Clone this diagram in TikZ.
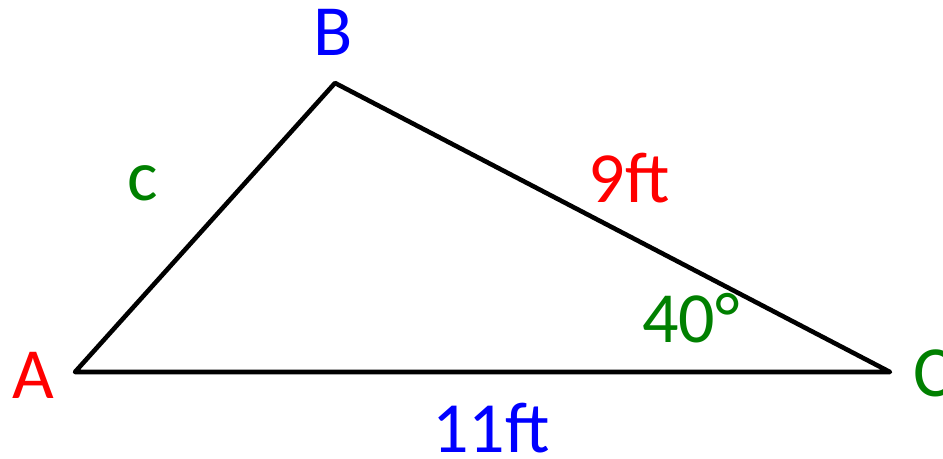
\documentclass[tikz,border=0pt]{standalone}
\usepackage{fontspec}
\setmainfont{Carlito}
\definecolor{lblue}{RGB}{0,0,255}
\definecolor{lred}{RGB}{255,0,0}
\definecolor{lgreen}{RGB}{0,128,0}
\begin{document}
\begin{tikzpicture}[x=0.02cm,y=-0.02cm,
  lbl/.style={inner sep=0pt,font=\fontsize{41}{46}\selectfont},
  edge/.style={line width=2.6pt,line join=round,line cap=round}]
\useasboundingbox (0,0) rectangle (943,458);
\clip (0,0) rectangle (943,458);
\coordinate (A) at (75,372);
\coordinate (B) at (335,83);
\coordinate (C) at (890,372);
\draw[edge] (A) -- (B) -- (C) -- cycle;
\node[lbl,text=lblue] (lB) at (333,32) {B};
\node[lbl,text=lred] (lA) at (33,375) {A};
\node[lbl,text=lgreen] (lC) at (933,373) {C};
\node[lbl,text=lgreen] (lc) at (143,183) {c};
\node[lbl,text=lred] (l9) at (629,178) {9ft};
\node[lbl,text=lgreen] (l40) at (691,318) {40°};
\node[lbl,text=lblue] (l11) at (491,428) {11ft};
\end{tikzpicture}
\end{document}
